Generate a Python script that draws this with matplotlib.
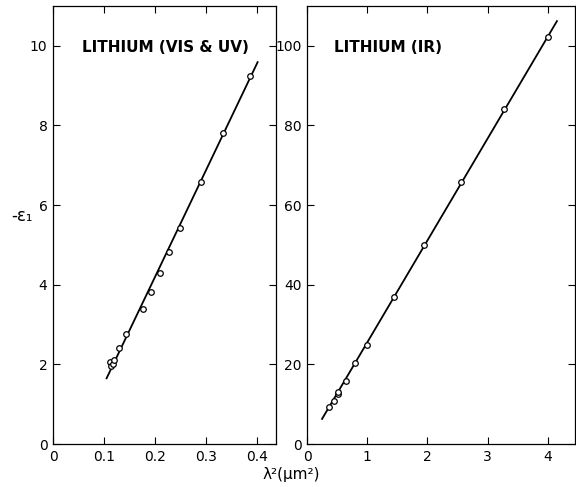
import numpy as np
import matplotlib
matplotlib.use("Agg")
import matplotlib.pyplot as plt

# lithium, visible & UV
vis_x = [0.112, 0.113, 0.118, 0.120, 0.129, 0.144, 0.176, 0.192, 0.210, 0.228, 0.249, 0.290, 0.334, 0.387]
vis_y = [2.07, 1.95, 2.00, 2.10, 2.41, 2.77, 3.40, 3.82, 4.30, 4.83, 5.43, 6.58, 7.80, 9.24]
vis_fit_x = [0.105, 0.401]
vis_fit_y = [1.65, 9.59]

# lithium, infrared
ir_x = [0.37, 0.45, 0.51, 0.52, 0.64, 0.80, 0.99, 1.44, 1.95, 2.55, 3.27, 4.00]
ir_y = [9.2, 10.7, 12.6, 13.1, 15.9, 20.3, 24.9, 36.9, 49.9, 65.9, 84.1, 102.3]
ir_fit_x = [0.25, 4.15]
ir_fit_y = [6.3, 106.2]

vis_xticks = [0, 0.1, 0.2, 0.3, 0.4]
vis_xlabels = ["0", "0.1", "0.2", "0.3", "0.4"]
vis_yticks = [0, 2, 4, 6, 8, 10]
ir_xticks = [0, 1, 2, 3, 4]
ir_yticks = [0, 20, 40, 60, 80, 100]

fig = plt.figure(figsize=(5.76, 4.87), dpi=100)
ax1 = fig.add_axes([53/576, 1 - 444/487, (276-53)/576, (444-6)/487])
ax2 = fig.add_axes([307/576, 1 - 444/487, (575-307)/576, (444-6)/487])

def style(ax):
    ax.tick_params(direction="in", top=True, right=True, labeltop=False,
                   labelright=False, length=5, width=0.8, labelsize=10, pad=4)
    for s in ax.spines.values():
        s.set_linewidth(0.9)

ax1.plot(vis_fit_x, vis_fit_y, color="black", lw=1.3)
ax1.plot(vis_x, vis_y, "o", mfc="white", mec="black", ms=4, mew=0.9)
ax1.set_xlim(0, 0.437)
ax1.set_ylim(0, 11)
ax1.set_xticks(vis_xticks)
ax1.set_xticklabels(vis_xlabels)
ax1.set_yticks(vis_yticks)
style(ax1)
ax1.text(0.13, 0.905, "LITHIUM (VIS & UV)", transform=ax1.transAxes,
         fontsize=11, fontweight="semibold", ha="left", va="center")

ax2.plot(ir_fit_x, ir_fit_y, color="black", lw=1.3)
ax2.plot(ir_x, ir_y, "o", mfc="white", mec="black", ms=4, mew=0.9)
ax2.set_xlim(0, 4.45)
ax2.set_ylim(0, 110)
ax2.set_xticks(ir_xticks)
ax2.set_yticks(ir_yticks)
style(ax2)
ax2.text(0.10, 0.905, "LITHIUM (IR)", transform=ax2.transAxes,
         fontsize=11, fontweight="semibold", ha="left", va="center")

fig.text(22/576, 1 - 216/487, "-ε₁", fontsize=12, ha="center", va="center")
fig.text(291/576, 1 - 474/487, "λ²(μm²)", fontsize=11,
         ha="center", va="center")

fig.savefig("out.png", dpi=100)
